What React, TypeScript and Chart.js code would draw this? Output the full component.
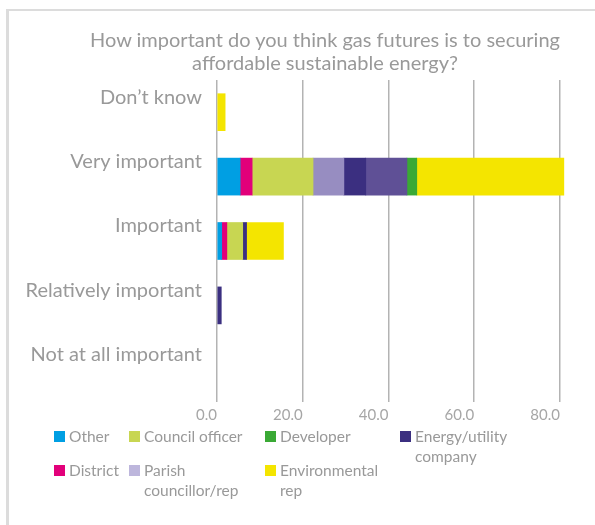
import React, { useEffect, useRef } from "react";
import { Chart, registerables } from "chart.js";

Chart.register(...registerables);

// ---------- data ----------
const titleLines = [
  "How important do you think gas futures is to securing",
  "affordable sustainable energy?",
];
const categories = [
  "Don’t know",
  "Very important",
  "Important",
  "Relatively important",
  "Not at all important",
];
const otherValues = [0, 5.4, 1.1, 0, 0];
const districtValues = [0, 2.8, 1.2, 0, 0];
const councilOfficerValues = [0, 14.2, 3.7, 0, 0];
const parishValues = [0, 7.2, 0, 0, 0];
const energyValues = [0, 5.1, 0.9, 1.0, 0];
const unlabelledValues = [0, 9.6, 0, 0, 0];
const developerValues = [0, 2.3, 0, 0, 0];
const environmentalValues = [1.9, 34.3, 8.6, 0, 0];
const xTickValues = [0, 20, 40, 60, 80];
const xMax = 87;

// ---------- series ----------
const series = [
  { label: "Other", data: otherValues, color: "#009fe3", legend: true },
  { label: "District", data: districtValues, color: "#e2007a", legend: true },
  { label: "Council officer", data: councilOfficerValues, color: "#c8d652", legend: true },
  { label: "Parish councillor/rep", data: parishValues, color: "#978dc1", legend: true, swatch: "#bdb6dc" },
  { label: "Energy/utility company", data: energyValues, color: "#3b2f80", legend: true },
  { label: "Unlabelled", data: unlabelledValues, color: "#5f5096", legend: false },
  { label: "Developer", data: developerValues, color: "#3aa935", legend: true },
  { label: "Environmental rep", data: environmentalValues, color: "#f4e500", legend: true },
];

// legend order (column-major, 4 columns x 2 rows)
const legendOrder = [
  "Other",
  "District",
  "Council officer",
  "Parish councillor/rep",
  "Developer",
  "Environmental rep",
  "Energy/utility company",
];

const FONT = "Lato, 'Open Sans', 'DejaVu Sans', sans-serif";

export default function App() {
  const canvasRef = useRef<HTMLCanvasElement | null>(null);

  useEffect(() => {
    const canvas = canvasRef.current;
    if (!canvas) return;
    const chart = new Chart(canvas, {
      type: "bar",
      data: {
        labels: categories,
        datasets: series.map((s) => ({
          label: s.label,
          data: s.data.map((v) => (v === 0 ? null : v)),
          backgroundColor: s.color,
          borderWidth: 0,
          barThickness: 37,
        })),
      },
      options: {
        animation: false,
        responsive: false,
        indexAxis: "y",
        layout: { padding: { left: 0, right: 5, top: 80, bottom: 93 } },
        plugins: {
          legend: { display: false },
          title: { display: false },
          tooltip: { enabled: false },
        },
        scales: {
          x: {
            stacked: true,
            min: 0,
            max: xMax,
            afterFit: (s: any) => {
              s.height = 30;
            },
            afterBuildTicks: (s: any) => {
              s.ticks = xTickValues.map((v) => ({ value: v }));
            },
            grid: { color: "#b3b3b3", lineWidth: 1.5, drawTicks: false },
            border: { display: false },
            ticks: {
              stepSize: 20,
              includeBounds: false,
              align: "end",
              padding: 4,
              color: "#a6a6a6",
              font: { family: FONT, size: 15 },
              callback: (v: any) => Number(v).toFixed(1),
            },
          },
          y: {
            stacked: true,
            afterFit: (s: any) => {
              s.width = 217;
            },
            grid: { display: false, drawTicks: false },
            border: { display: false },
            ticks: {
              padding: 15,
              labelOffset: -15,
              color: "#999999",
              font: { family: FONT, size: 20 },
            },
          },
        },
      },
    });
    return () => chart.destroy();
  }, []);

  const legendItems = legendOrder.map((name) => series.find((s) => s.label === name)!);

  return (
    <div
      style={{
        position: "absolute",
        left: 0,
        top: 0,
        width: 595,
        height: 525,
        overflow: "hidden",
        background: "#fff",
        fontFamily: FONT,
      }}
    >
      <div
        style={{
          position: "absolute",
          left: 6,
          top: 9,
          width: 589,
          height: 516,
          borderTop: "2px solid #dcdcdc",
          borderLeft: "3px solid #dcdcdc",
          boxSizing: "border-box",
        }}
      />
      <canvas
        ref={canvasRef}
        width={595}
        height={525}
        style={{ position: "absolute", left: 0, top: 0, width: 595, height: 525 }}
      />
      <div
        style={{
          position: "absolute",
          left: 50,
          top: 28,
          width: 550,
          textAlign: "center",
          color: "#999999",
          fontSize: 20,
          lineHeight: "23px",
        }}
      >
        {titleLines.map((t, i) => (
          <div key={i}>{t}</div>
        ))}
      </div>
      <div
        style={{
          position: "absolute",
          left: 54,
          top: 426,
          display: "grid",
          gridTemplateColumns: "75px 136px 135px 180px",
          gridTemplateRows: "34px 60px",
          gridAutoFlow: "column",
          color: "#999999",
          fontSize: 15.5,
          lineHeight: "20px",
        }}
      >
        {legendItems.map((s) => (
          <div key={s.label} style={{ display: "flex", alignItems: "flex-start" }}>
            <span
              style={{
                display: "inline-block",
                width: 11,
                height: 11,
                marginTop: 5,
                background: (s as any).swatch || s.color,
                flex: "none",
              }}
            />
            <span style={{ marginLeft: 4, maxWidth: 118 }}>{s.label}</span>
          </div>
        ))}
      </div>
    </div>
  );
}
